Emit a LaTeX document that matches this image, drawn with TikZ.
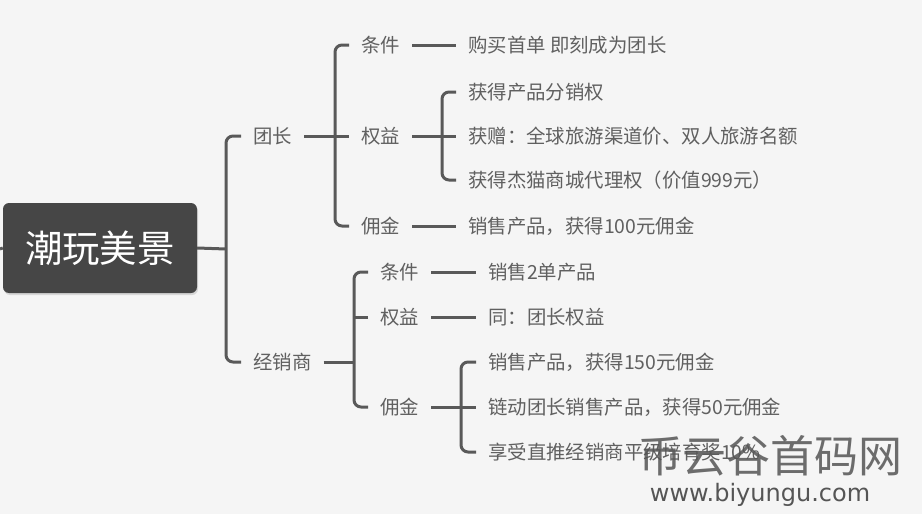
\documentclass[tikz,border=0pt]{standalone}
\usepackage{fontspec}
\setmainfont{Noto Sans CJK SC}
\newfontfamily\urlfont{DejaVu Sans}
\usepackage{tikz}
\usetikzlibrary{shadows}

\definecolor{bgc}{HTML}{F5F5F5}
\definecolor{linec}{HTML}{595959}
\definecolor{txtc}{HTML}{606060}
\definecolor{rootc}{HTML}{464646}
\definecolor{wmc}{HTML}{555555}

\begin{document}
\begin{tikzpicture}[x=1pt,y=-1pt,
			root/.style={rounded corners=6pt,fill=rootc,text=white,minimum width=194pt,minimum height=90pt,
				font=\fontsize{37.5}{40}\selectfont,drop shadow={opacity=0.25,shadow xshift=1pt,shadow yshift=-2pt}},
			lvl/.style={anchor=west,inner xsep=12pt,inner ysep=2pt,text=txtc,font=\fontsize{19.4}{22}\selectfont},
			link/.style={draw=linec,line width=3pt},
			bracket/.style={link,rounded corners=7pt},
			]
			% 背景
			\fill[bgc] (0,0) rectangle (922,514);
			\useasboundingbox (0,0) rectangle (922,514);
			
			% 中心主题
			\node[root] (root) at (100,248) {潮玩美景};
			\coordinate (in) at (0,249);
			\draw[link] (in) -- (root.west);
			
			% 一级：团长、经销商
			\node[lvl] (tz) at (241,136) {团长};
			\node[lvl] (jx) at (241,362) {经销商};
			\coordinate (b0) at (226,249);
			\draw[link] (root.east) -- (b0);
			\draw[bracket] (tz.west) -| (b0 |- jx.west) -- (jx.west);
			
			% 团长
			\node[lvl] (tz1) at (349,45) {条件};
			\node[lvl] (tz2) at (349,136) {权益};
			\node[lvl] (tz3) at (349,226) {佣金};
			\coordinate (b1) at (335,136);
			\draw[link] (tz.east) -- (tz2.west);
			\draw[bracket] (tz1.west) -| (b1 |- tz3.west) -- (tz3.west);
			
			\node[lvl] (tz1a) at (456,45) {购买首单 即刻成为团长};
			\draw[link] (tz1.east) -- (tz1a.west);
			
			\node[lvl] (tz2a) at (456,92) {获得产品分销权};
			\node[lvl] (tz2b) at (456,136) {获赠：全球旅游渠道价、双人旅游名额};
			\node[lvl] (tz2c) at (456,180) {获得杰猫商城代理权（价值999元）};
			\coordinate (b2) at (442,136);
			\draw[link] (tz2.east) -- (tz2b.west);
			\draw[bracket] (tz2a.west) -| (b2 |- tz2c.west) -- (tz2c.west);
			
			\node[lvl] (tz3a) at (456,226) {销售产品，获得100元佣金};
			\draw[link] (tz3.east) -- (tz3a.west);
			
			% 经销商
			\node[lvl] (jx1) at (368,272) {条件};
			\node[lvl] (jx2) at (368,317) {权益};
			\node[lvl] (jx3) at (368,407) {佣金};
			\coordinate (b3) at (354,362);
			\draw[link] (jx.east) -- (b3);
			\draw[bracket] (jx1.west) -| (b3 |- jx3.west) -- (jx3.west);
			\draw[link] (jx2.west) -- (b3 |- jx2.west);
			
			\node[lvl] (jx1a) at (476,272) {销售2单产品};
			\draw[link] (jx1.east) -- (jx1a.west);
			\node[lvl] (jx2a) at (476,317) {同：团长权益};
			\draw[link] (jx2.east) -- (jx2a.west);
			
			\node[lvl] (jx3a) at (476,362) {销售产品，获得150元佣金};
			\node[lvl] (jx3b) at (476,407) {链动团长销售产品，获得50元佣金};
			\node[lvl] (jx3c) at (476,452) {享受直推经销商平级培育奖10\%};
			\coordinate (b4) at (461,407);
			\draw[link] (jx3.east) -- (jx3b.west);
			\draw[bracket] (jx3a.west) -| (b4 |- jx3c.west) -- (jx3c.west);
			
			% 水印
			\node[text=wmc,opacity=0.85,font=\fontsize{44}{46}\selectfont] (wm) at (770,456) {币云谷首码网};
			\node[text=wmc,font=\urlfont\fontsize{24}{26}\selectfont] (wmurl) at (760,495) {www.biyungu.com};
		\end{tikzpicture}
\end{document}
